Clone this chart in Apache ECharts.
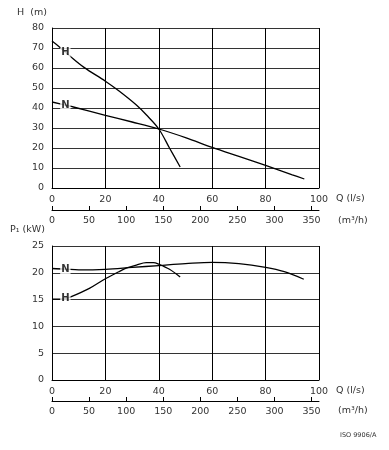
<!DOCTYPE html>
<html>
<head>
<meta charset="utf-8">
<script src="https://cdn.jsdelivr.net/npm/echarts@6/dist/echarts.min.js"></script>
<style>html,body{margin:0;padding:0;background:#fff}#c{width:389px;height:450px}</style>
</head>
<body>
<div id="c"></div>
<script>
// Flow Q (l/s) vs head H (m)
var headH = [[0,73.5],[3,70.3],[6.6,66.1],[12,60.3],[20,53.4],[25,48.6],[31.5,41.6],[35.3,36.6],[40,29.5],[44,20],[48,10.5]];
var headN = [[0,43],[5,41.4],[8,40.5],[20,36.3],[30,33],[40,29.5],[50,25.2],[60,20.3],[70,15.8],[80,11.3],[90,6.6],[94.5,4.5]];
// Flow Q (l/s) vs power P1 (kW)
var powerH = [[0,15.1],[5,15.2],[7,15.5],[14,17.1],[20,18.9],[25,20.2],[28,20.9],[31.6,21.45],[35.3,21.9],[38,21.9],[40,21.6],[44,20.65],[48,19.2]];
var powerN = [[0,20.8],[5,20.7],[10,20.55],[20,20.65],[30,21.0],[40,21.35],[50,21.7],[60,21.95],[70,21.7],[80,21.0],[87,20.2],[94.3,18.8]];
// curve labels [Q, value, text]
var headLabels = [[5,67.8,'H'],[5,41.4,'N']];
var powerLabels = [[5,15.2,'H'],[5,20.7,'N']];
var qTicks = {min:0, max:100, step:20};
var m3hTicks = {min:0, max:360, step:50};
var hTicks = {min:0, max:80, step:10};
var pTicks = {min:0, max:25, step:5};

var FONT = 'DejaVu Sans';
var TXT = '#333';
var chart = echarts.init(document.getElementById('c'), null, {renderer:'canvas'});

function qAxis(g){
  return {type:'value', gridIndex:g, min:qTicks.min, max:qTicks.max, interval:qTicks.step,
    axisLine:{show:true, onZero:false, lineStyle:{color:'#000', width:1}},
    axisTick:{show:false},
    axisLabel:{color:TXT, fontFamily:FONT, fontSize:9.5, margin:7},
    splitLine:{show:true, lineStyle:{color:'#000', width:1}}};
}
function mAxis(g, off){
  return {type:'value', gridIndex:g, position:'bottom', offset:off, min:m3hTicks.min, max:m3hTicks.max, interval:m3hTicks.step,
    axisLine:{show:true, onZero:false, lineStyle:{color:'#000', width:1}},
    axisTick:{show:true, inside:true, length:4, lineStyle:{color:'#000'}},
    axisLabel:{color:TXT, fontFamily:FONT, fontSize:9.5, margin:6, showMaxLabel:false},
    splitLine:{show:false}};
}
function vAxis(g, t){
  return {type:'value', gridIndex:g, min:t.min, max:t.max, interval:t.step,
    axisLine:{show:true, lineStyle:{color:'#000', width:1}},
    axisTick:{show:false},
    axisLabel:{color:TXT, fontFamily:FONT, fontSize:9.5, margin:8},
    splitLine:{show:true, lineStyle:{color:'#333', width:1}}};
}
function curve(d, xi, yi){
  return {type:'line', data:d, xAxisIndex:xi, yAxisIndex:yi, smooth:0.35, showSymbol:false, silent:true,
    lineStyle:{color:'#000', width:1.3}, z:3};
}
function labels(d, xi, yi){
  return {type:'scatter', xAxisIndex:xi, yAxisIndex:yi, symbolSize:1, silent:true, z:5,
    itemStyle:{color:'rgba(0,0,0,0)'},
    data:d.map(function(a){return {value:[a[0],a[1]], name:a[2]};}),
    label:{show:true, position:'inside', formatter:function(p){return p.name;},
      color:'#000', fontFamily:FONT, fontSize:10, fontWeight:'bold',
      backgroundColor:'#fff', padding:[0,1]}};
}

chart.setOption({
  animation:false,
  backgroundColor:'#fff',
  grid:[{left:52, top:28, width:267, height:160},{left:52, top:246, width:267, height:134}],
  xAxis:[qAxis(0), mAxis(0,22), qAxis(1), mAxis(1,21)],
  yAxis:[vAxis(0,hTicks), vAxis(1,pTicks)],
  series:[curve(headH,0,0), curve(headN,0,0), curve(powerH,2,1), curve(powerN,2,1),
    labels(headLabels,0,0), labels(powerLabels,2,1)],
  graphic:[
    {type:'text', left:17, top:8, style:{text:'H  (m)', fill:TXT, font:'9.5px "DejaVu Sans"'}},
    {type:'text', left:10, top:225, style:{text:'P\u2081 (kW)', fill:TXT, font:'9.5px "DejaVu Sans"'}},
    {type:'text', left:336, top:194, style:{text:'Q (l/s)', fill:TXT, font:'9.5px "DejaVu Sans"'}},
    {type:'text', left:338, top:216, style:{text:'(m\u00b3/h)', fill:TXT, font:'9.5px "DejaVu Sans"'}},
    {type:'text', left:336, top:386, style:{text:'Q (l/s)', fill:TXT, font:'9.5px "DejaVu Sans"'}},
    {type:'text', left:338, top:406, style:{text:'(m\u00b3/h)', fill:TXT, font:'9.5px "DejaVu Sans"'}},
    {type:'text', left:340, top:432, style:{text:'ISO 9906/A', fill:TXT, font:'6.5px "DejaVu Sans"'}}
  ]
});
</script>
</body>
</html>
